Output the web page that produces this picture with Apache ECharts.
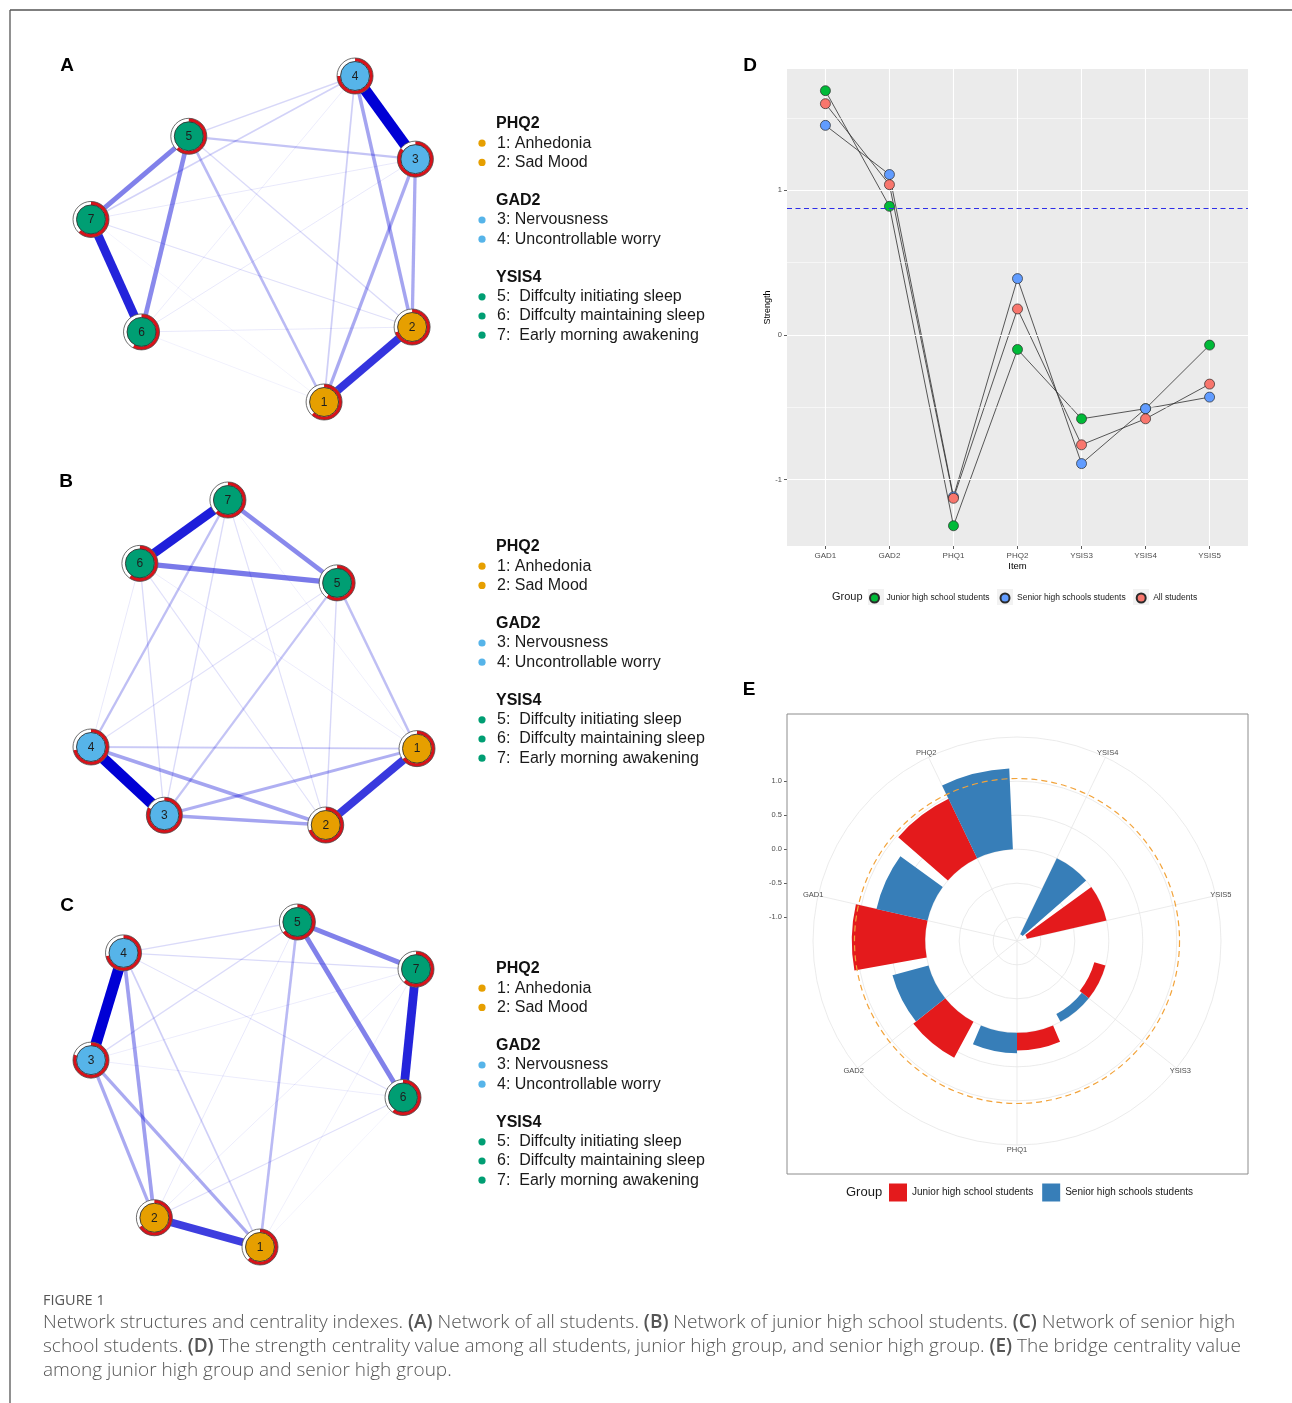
<!DOCTYPE html>
<html>
<head>
<meta charset="utf-8">
<script src="https://cdn.jsdelivr.net/npm/echarts@6/dist/echarts.min.js"></script>
<style>
  html, body { margin: 0; padding: 0; background: #ffffff; }
  #chart { width: 1292px; height: 1403px; }
</style>
</head>
<body>
<div id="chart"></div>
<script>
// ---------------- network data (nodes 1..7) ----------------
const nodeLabels = ['1', '2', '3', '4', '5', '6', '7'];
const nodeGroup = ['PHQ2', 'PHQ2', 'GAD2', 'GAD2', 'YSIS4', 'YSIS4', 'YSIS4'];

// layout coordinates (qgraph-style, scaled to [-1, 1])
const layoutAll = [[0.43, -1.00], [0.97, -0.54], [0.99, 0.49], [0.62, 1.00], [-0.40, 0.63], [-0.69, -0.57], [-1.00, 0.12]];
const layoutJunior = [[1.00, -0.53], [0.44, -1.00], [-0.55, -0.94], [-1.00, -0.52], [0.51, 0.49], [-0.70, 0.61], [-0.16, 1.00]];
const layoutSenior = [[0.04, -1.00], [-0.61, -0.82], [-1.00, 0.15], [-0.80, 0.81], [0.27, 1.00], [0.92, -0.08], [1.00, 0.71]];

// edges: [from, to, relative weight]
const edgesAll = [
  [3, 4, 1.00], [6, 7, 0.80], [1, 2, 0.74], [5, 7, 0.45], [5, 6, 0.42], [2, 4, 0.32], [2, 3, 0.30],
  [1, 3, 0.30], [1, 5, 0.24], [3, 5, 0.20], [4, 7, 0.15], [1, 4, 0.16], [4, 5, 0.13], [2, 5, 0.12],
  [2, 7, 0.10], [3, 7, 0.08], [3, 6, 0.08], [4, 6, 0.07], [2, 6, 0.08], [1, 6, 0.05], [1, 7, 0.04]
];
const edgesJunior = [
  [3, 4, 1.00], [6, 7, 0.82], [1, 2, 0.72], [5, 6, 0.48], [5, 7, 0.42], [2, 3, 0.32], [2, 4, 0.32],
  [1, 3, 0.28], [1, 5, 0.22], [4, 7, 0.22], [3, 5, 0.20], [1, 4, 0.18], [2, 5, 0.13], [3, 6, 0.12],
  [3, 7, 0.12], [4, 5, 0.10], [2, 7, 0.10], [2, 6, 0.10], [4, 6, 0.08], [1, 6, 0.07], [1, 7, 0.06]
];
const edgesSenior = [
  [3, 4, 1.00], [6, 7, 0.80], [1, 2, 0.70], [5, 7, 0.45], [5, 6, 0.45], [2, 4, 0.34], [2, 3, 0.30],
  [1, 3, 0.30], [1, 5, 0.24], [1, 4, 0.16], [4, 5, 0.12], [4, 7, 0.12], [3, 5, 0.12], [4, 6, 0.10],
  [2, 6, 0.10], [3, 6, 0.07], [3, 7, 0.07], [2, 5, 0.08], [2, 7, 0.07], [1, 7, 0.06], [1, 6, 0.04]
];

// node predictability (share of the ring drawn red)
const predAll = [0.62, 0.70, 0.85, 0.75, 0.62, 0.58, 0.62];
const predJunior = [0.65, 0.70, 0.82, 0.72, 0.60, 0.60, 0.62];
const predSenior = [0.62, 0.66, 0.80, 0.72, 0.65, 0.60, 0.62];

// node legend
const legendTitles = ['PHQ2', 'GAD2', 'YSIS4'];
const legendItems = [
  ['1: Anhedonia', '2: Sad Mood'],
  ['3: Nervousness', '4: Uncontrollable worry'],
  ['5:  Diffculty initiating sleep', '6:  Diffculty maintaining sleep', '7:  Early morning awakening']
];

// ---------------- strength centrality ----------------
const strengthItems = ['GAD1', 'GAD2', 'PHQ1', 'PHQ2', 'YSIS3', 'YSIS4', 'YSIS5'];
const strengthJunior = [1.69, 0.89, -1.32, -0.10, -0.58, -0.51, -0.07];
const strengthSenior = [1.45, 1.11, -1.12, 0.39, -0.89, -0.51, -0.43];
const strengthAll = [1.60, 1.04, -1.13, 0.18, -0.76, -0.58, -0.34];
const strengthCut = 0.88;
const strengthGroups = ['Junior high school students', 'Senior high schools students', 'All students'];

// ---------------- bridge centrality ----------------
const bridgeItems = ['YSIS4', 'YSIS5', 'YSIS3', 'PHQ1', 'GAD2', 'GAD1', 'PHQ2'];
const bridgeJunior = [null, -1.20, -0.17, 0.26, 0.60, 1.08, 0.97];
const bridgeSenior = [-1.24, null, -0.13, 0.30, 0.55, 0.77, 1.19];
const bridgeCut = 1.04;
const bridgeBreaks = [-1.0, -0.5, 0.0, 0.5, 1.0];
const bridgeGroups = ['Junior high school students', 'Senior high schools students'];

// ---------------- styling / layout ----------------
const FONT = 'Liberation Sans, Arial, Helvetica, sans-serif';
const groupColor = { PHQ2: '#E69F00', GAD2: '#56B4E9', YSIS4: '#009E73' };
const edgeColor = '#0000D5';
const edgeWidth = w => Math.max(0.8, 11 * w);
const edgeAlpha = w => Math.min(1, 1.05 * w + 0.02);

const networkPanels = [
  { layout: layoutAll, edges: edgesAll, pred: predAll, grid: { left: 91, top: 76, width: 326, height: 326 }, legendY: 124, letter: 'A', letterXY: [67, 66] },
  { layout: layoutJunior, edges: edgesJunior, pred: predJunior, grid: { left: 91, top: 500, width: 326, height: 325 }, legendY: 547, letter: 'B', letterXY: [66, 482] },
  { layout: layoutSenior, edges: edgesSenior, pred: predSenior, grid: { left: 91, top: 922, width: 325, height: 325 }, legendY: 969, letter: 'C', letterXY: [67, 906] }
];

// polar panel geometry
const polarCenter = [1017, 941];
const polarRadius = 204;
const rMin = -1.35, rMax = 1.65;
const rScale = polarRadius / (rMax - rMin);

const grids = [];
const xAxes = [];
const yAxes = [];
const series = [];
const graphics = [];

// ---------- network panels ----------
function nodeRenderer(pred) {
  return function (params, api) {
    const i = api.value(2);
    const p = api.coord([api.value(0), api.value(1)]);
    const R = 18, r = 14.5, a0 = -Math.PI / 2;
    return {
      type: 'group',
      children: [
        { type: 'circle', shape: { cx: p[0], cy: p[1], r: R }, style: { fill: '#ffffff', stroke: null } },
        { type: 'sector', shape: { cx: p[0], cy: p[1], r0: r, r: R, startAngle: a0, endAngle: a0 + 2 * Math.PI * pred[i], clockwise: true }, style: { fill: '#D8121A' } },
        { type: 'circle', shape: { cx: p[0], cy: p[1], r: R }, style: { fill: null, stroke: '#4a4a4a', lineWidth: 0.8 } },
        { type: 'circle', shape: { cx: p[0], cy: p[1], r: r }, style: { fill: groupColor[nodeGroup[i]], stroke: '#333333', lineWidth: 0.9 } },
        { type: 'text', style: { x: p[0], y: p[1] + 0.5, text: nodeLabels[i], fill: '#1e1e1e', fontSize: 12, fontFamily: FONT, align: 'center', verticalAlign: 'middle' } }
      ]
    };
  };
}

networkPanels.forEach((panel, k) => {
  grids.push(Object.assign({ show: false, containLabel: false, outerBoundsMode: 'none' }, panel.grid));
  xAxes.push({ gridIndex: k, type: 'value', min: -1, max: 1, show: false });
  yAxes.push({ gridIndex: k, type: 'value', min: -1, max: 1, show: false });

  const sorted = panel.edges.slice().sort((a, b) => a[2] - b[2]);
  series.push({
    type: 'lines', coordinateSystem: 'cartesian2d', xAxisIndex: k, yAxisIndex: k,
    polyline: false, silent: true, clip: false, z: 2, lineStyle: { curveness: 0 },
    data: sorted.map(([a, b, w]) => ({
      coords: [panel.layout[a - 1], panel.layout[b - 1]],
      lineStyle: { color: edgeColor, width: edgeWidth(w), opacity: edgeAlpha(w), curveness: 0, cap: 'butt' }
    }))
  });
  series.push({
    type: 'custom', coordinateSystem: 'cartesian2d', xAxisIndex: k, yAxisIndex: k,
    silent: true, clip: false, z: 10,
    encode: { x: 0, y: 1 },
    data: panel.layout.map((p, i) => [p[0], p[1], i]),
    renderItem: nodeRenderer(panel.pred)
  });

  // panel letter
  graphics.push({ type: 'text', x: panel.letterXY[0], y: panel.letterXY[1], style: { text: panel.letter, fontSize: 19, fontWeight: 'bold', fontFamily: FONT, fill: '#000', align: 'center', verticalAlign: 'middle' } });

  // node legend
  let y = panel.legendY;
  legendTitles.forEach((title, g) => {
    graphics.push({ type: 'text', x: 496, y: y, style: { text: title, fontSize: 16, fontWeight: 'bold', fontFamily: FONT, fill: '#111', align: 'left', verticalAlign: 'middle' } });
    y += 19.2;
    legendItems[g].forEach(label => {
      graphics.push({ type: 'circle', shape: { cx: 482, cy: y, r: 3.6 }, style: { fill: groupColor[title] } });
      graphics.push({ type: 'text', x: 497, y: y, style: { text: label, fontSize: 16, fontFamily: FONT, fill: '#1a1a1a', align: 'left', verticalAlign: 'middle' } });
      y += 19.2;
    });
    y += 19.2;
  });
});

// ---------- strength panel (D) ----------
const gD = grids.length;
grids.push({ left: 787, top: 69, width: 461, height: 477, show: true, backgroundColor: '#EBEBEB', borderWidth: 0, containLabel: false, outerBoundsMode: 'none' });
xAxes.push({
  gridIndex: gD, type: 'value', min: -0.6, max: 6.6, minInterval: 1, maxInterval: 1,
  axisLine: { show: false, onZero: false },
  axisTick: { show: true, length: 3, lineStyle: { color: '#333', width: 0.8 }, customValues: [0, 1, 2, 3, 4, 5, 6] },
  axisLabel: { customValues: [0, 1, 2, 3, 4, 5, 6], formatter: v => (Number.isInteger(v) ? strengthItems[v] : ''), fontSize: 8, color: '#4D4D4D', margin: 6, fontFamily: FONT },
  splitLine: { show: true, lineStyle: { color: '#ffffff', width: 1.1 } },
  name: 'Item', nameLocation: 'middle', nameGap: 15, nameMoveOverlap: false,
  nameTextStyle: { fontSize: 9.5, color: '#000', fontFamily: FONT, verticalAlign: 'top' }
});
yAxes.push({
  gridIndex: gD, type: 'value', min: -1.46, max: 1.84, minInterval: 0.5, maxInterval: 0.5,
  axisLine: { show: false, onZero: false },
  axisTick: { show: true, length: 3, lineStyle: { color: '#333', width: 0.8 }, customValues: [-1, 0, 1] },
  axisLabel: { customValues: [-1, 0, 1], formatter: v => (Number.isInteger(v) ? String(v) : ''), fontSize: 7.5, color: '#4D4D4D', margin: 5, fontFamily: FONT },
  splitLine: { show: false },
  name: 'Strength', nameLocation: 'middle', nameGap: 15, nameRotate: 90, nameMoveOverlap: false,
  nameTextStyle: { fontSize: 9, color: '#000', fontFamily: FONT }
});
// background grid: major at whole numbers, minor at halves
series.push({
  type: 'line', xAxisIndex: gD, yAxisIndex: gD, data: [], silent: true, z: 1,
  markLine: {
    silent: true, symbol: 'none', label: { show: false }, animation: false,
    data: [-1, 0, 1].map(v => ({ yAxis: v, lineStyle: { color: '#ffffff', width: 1.1, type: 'solid' } }))
      .concat([-0.5, 0.5, 1.5].map(v => ({ yAxis: v, lineStyle: { color: '#ffffff', width: 0.55, type: 'solid' } })))
  }
});
// cut-off line
series.push({
  type: 'line', xAxisIndex: gD, yAxisIndex: gD, data: [], silent: true, z: 2,
  markLine: {
    silent: true, symbol: 'none', label: { show: false }, animation: false,
    data: [{ yAxis: strengthCut, lineStyle: { color: '#2E2EE8', width: 1.2, type: [5, 3.5] } }]
  }
});
const strengthSets = [
  { name: strengthGroups[0], values: strengthJunior, color: '#00BA38' },
  { name: strengthGroups[1], values: strengthSenior, color: '#619CFF' },
  { name: strengthGroups[2], values: strengthAll, color: '#F8766D' }
];
strengthSets.forEach(s => {
  series.push({
    type: 'line', name: s.name + ' path', xAxisIndex: gD, yAxisIndex: gD, z: 3, silent: true,
    showSymbol: false, symbol: 'none',
    lineStyle: { color: '#2e2e2e', width: 0.8 },
    data: s.values.map((v, i) => [i, v])
  });
});
strengthSets.forEach((s, k) => {
  series.push({
    type: 'scatter', name: s.name, xAxisIndex: gD, yAxisIndex: gD, z: 4 + k, silent: true,
    symbol: 'circle', symbolSize: 10,
    itemStyle: { color: s.color, borderColor: '#2a2a2a', borderWidth: 0.7, opacity: 1 },
    data: s.values.map((v, i) => [i, v])
  });
});
graphics.push({ type: 'text', x: 750, y: 66, style: { text: 'D', fontSize: 19, fontWeight: 'bold', fontFamily: FONT, fill: '#000', align: 'center', verticalAlign: 'middle' } });
graphics.push({ type: 'text', x: 832, y: 597, style: { text: 'Group', fontSize: 11, fontFamily: FONT, fill: '#1a1a1a', align: 'left', verticalAlign: 'middle' } });
// legend key backgrounds
[876, 1005, 1141].forEach(cx => {
  graphics.push({ type: 'rect', shape: { x: cx - 8, y: 589, width: 16, height: 16 }, style: { fill: '#F2F2F2' }, z: -1 });
});

// ---------- bridge panel (E) ----------
// left radial scale, aligned with the polar radius axis
const gE = grids.length;
const eTop = polarCenter[1] - (1 - rMin) * rScale;
grids.push({ left: 787, top: eTop, width: 20, height: 2 * rScale, show: false, containLabel: false, outerBoundsMode: 'none' });
xAxes.push({ gridIndex: gE, type: 'value', show: false, min: 0, max: 1 });
yAxes.push({
  gridIndex: gE, type: 'value', min: -1, max: 1, interval: 0.5,
  axisLine: { show: false, onZero: false },
  axisTick: { show: true, length: 3, lineStyle: { color: '#333', width: 0.8 } },
  axisLabel: { formatter: v => v.toFixed(1), fontSize: 7.5, color: '#4D4D4D', margin: 5, fontFamily: FONT },
  splitLine: { show: false }
});

series.push({
  type: 'custom', coordinateSystem: 'polar', polarIndex: 0, silent: true, z: 1,
  data: [[0, 0]],
  renderItem: function (params, api) {
    const cs = params.coordSys;
    const cx = cs.cx, cy = cs.cy;
    const radiusOf = v => { const p = api.coord([v, 0]); return Math.hypot(p[0] - cx, p[1] - cy); };
    const children = [];
    bridgeBreaks.forEach(v => {
      children.push({ type: 'circle', shape: { cx, cy, r: radiusOf(v) }, style: { fill: null, stroke: '#E6E6E6', lineWidth: 0.8 } });
    });
    children.push({ type: 'circle', shape: { cx, cy, r: cs.r }, style: { fill: null, stroke: '#E6E6E6', lineWidth: 0.8 } });
    bridgeItems.forEach((name, i) => {
      const p = api.coord([rMax, i]);
      children.push({ type: 'line', shape: { x1: cx, y1: cy, x2: p[0], y2: p[1] }, style: { stroke: '#E6E6E6', lineWidth: 0.8 } });
      const q = api.coord([rMax + 5 / rScale, i]);
      children.push({ type: 'text', style: { x: q[0], y: q[1], text: name, fontSize: 7.5, fontFamily: FONT, fill: '#4D4D4D', align: 'center', verticalAlign: 'middle' } });
    });
    return { type: 'group', children };
  }
});
const bridgeSeriesIds = ['bridge-junior', 'bridge-senior'];
series.push({
  type: 'bar', name: bridgeSeriesIds[0], coordinateSystem: 'polar', polarIndex: 0, z: 2, silent: true,
  data: bridgeJunior, itemStyle: { color: '#E41A1C' }, barGap: '0%', barCategoryGap: '10%'
});
series.push({
  type: 'bar', name: bridgeSeriesIds[1], coordinateSystem: 'polar', polarIndex: 0, z: 2, silent: true,
  data: bridgeSenior, itemStyle: { color: '#377EB8' }, barGap: '0%', barCategoryGap: '10%'
});
series.push({
  type: 'custom', coordinateSystem: 'polar', polarIndex: 0, silent: true, z: 5,
  data: [[bridgeCut, 0]],
  renderItem: function (params, api) {
    const cs = params.coordSys;
    const p = api.coord([api.value(0), 0]);
    const r = Math.hypot(p[0] - cs.cx, p[1] - cs.cy);
    return { type: 'circle', shape: { cx: cs.cx, cy: cs.cy, r }, style: { fill: null, stroke: '#F2A33A', lineWidth: 1.2, lineDash: [6, 4] } };
  }
});
graphics.push({ type: 'text', x: 749, y: 690, style: { text: 'E', fontSize: 19, fontWeight: 'bold', fontFamily: FONT, fill: '#000', align: 'center', verticalAlign: 'middle' } });
graphics.push({ type: 'rect', shape: { x: 787, y: 714, width: 461, height: 460 }, style: { fill: null, stroke: '#8C8C8C', lineWidth: 1 }, z: 50 });
graphics.push({ type: 'text', x: 846, y: 1192, style: { text: 'Group', fontSize: 13, fontFamily: FONT, fill: '#1a1a1a', align: 'left', verticalAlign: 'middle' } });

// ---------- frame and caption ----------
graphics.push({ type: 'line', shape: { x1: 10, y1: 10, x2: 1292, y2: 10 }, style: { stroke: '#555', lineWidth: 1.3 } });
graphics.push({ type: 'line', shape: { x1: 10, y1: 10, x2: 10, y2: 1403 }, style: { stroke: '#555', lineWidth: 1.3 } });
graphics.push({ type: 'text', x: 43, y: 1301, style: { text: 'FIGURE 1', fontSize: 14.5, fontFamily: 'Open Sans, sans-serif', fill: '#555', align: 'left', verticalAlign: 'middle' } });

const capN = { fontSize: 19, fontFamily: 'Open Sans, sans-serif', fontWeight: 300, fill: '#555' };
const capB = { fontSize: 19, fontFamily: 'Open Sans, sans-serif', fontWeight: 600, fill: '#555' };
const captionLines = [
  '{n|Network structures and centrality indexes. }{b|(A)}{n| Network of all students. }{b|(B)}{n| Network of junior high school students. }{b|(C)}{n| Network of senior high}',
  '{n|school students. }{b|(D)}{n| The strength centrality value among all students, junior high group, and senior high group. }{b|(E)}{n| The bridge centrality value}',
  '{n|among junior high group and senior high group.}'
];
captionLines.forEach((t, i) => {
  graphics.push({ type: 'text', x: 43, y: 1323 + 24 * i, style: { text: t, rich: { n: capN, b: capB }, align: 'left', verticalAlign: 'middle' } });
});

const option = {
  animation: false,
  backgroundColor: '#ffffff',
  textStyle: { fontFamily: FONT },
  grid: grids,
  xAxis: xAxes,
  yAxis: yAxes,
  polar: [{ center: polarCenter, radius: polarRadius }],
  angleAxis: [{
    polarIndex: 0, type: 'category', data: bridgeItems, startAngle: 90, clockwise: true,
    axisLine: { show: false }, axisTick: { show: false }, axisLabel: { show: false }, splitLine: { show: false }
  }],
  radiusAxis: [{
    polarIndex: 0, type: 'value', min: rMin, max: rMax,
    axisLine: { show: false }, axisTick: { show: false }, axisLabel: { show: false }, splitLine: { show: false }
  }],
  legend: [
    {
      data: strengthGroups, left: 869, top: 592.5, orient: 'horizontal', icon: 'circle',
      itemWidth: 14, itemHeight: 9, itemGap: 10, selectedMode: false,
      textStyle: { fontSize: 8.5, color: '#1a1a1a', fontFamily: FONT }, padding: 0
    },
    {
      data: bridgeSeriesIds, left: 889, top: 1183.5, orient: 'horizontal', icon: 'rect',
      itemWidth: 18, itemHeight: 18, itemGap: 9, selectedMode: false,
      formatter: name => bridgeGroups[bridgeSeriesIds.indexOf(name)],
      textStyle: { fontSize: 10, color: '#1a1a1a', fontFamily: FONT }, padding: 0
    }
  ],
  graphic: graphics,
  series: series
};

const chart = echarts.init(document.getElementById('chart'), null, { renderer: 'canvas', width: 1292, height: 1403 });
chart.setOption(option);
</script>
</body>
</html>
